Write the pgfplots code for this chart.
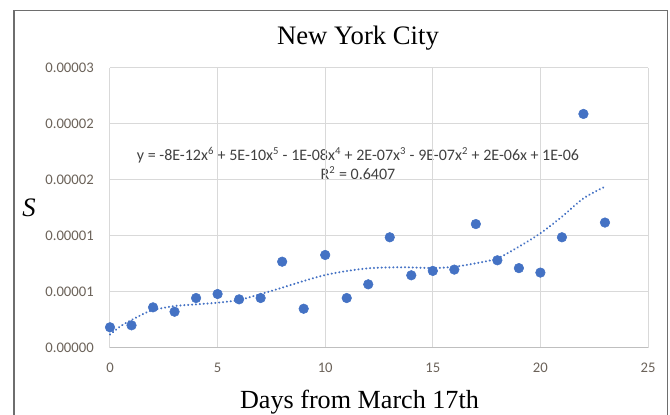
\documentclass[border=0pt]{standalone}
\usepackage{pgfplots}
\pgfplotsset{compat=1.18}
\usepackage{fontspec}
\setmainfont{Liberation Serif}
\newfontfamily\carlito{Carlito}
\definecolor{ptblue}{HTML}{4472C4}
\definecolor{gridgray}{HTML}{D9D9D9}
\definecolor{axgray}{HTML}{BFBFBF}
\definecolor{tickgray}{HTML}{6B6259}
\definecolor{eqgray}{HTML}{404040}
\definecolor{framegray}{HTML}{6E6E6E}
\begin{document}
\begin{tikzpicture}
\begin{scope}[x=0.75pt,y=-0.75pt,shift={(-82.5pt,260.625pt)}]
  \path[use as bounding box] (0,0) rectangle (670,414);
  \draw[framegray,line width=1.1pt] (14,420) -- (14,10.5) -- (667.5,10.5) -- (667.5,420);
  \node[anchor=base,font=\fontsize{20}{23}\selectfont] at (358,45) {New York City};
  \node[anchor=base,font=\fontsize{19.6}{23}\selectfont] at (359.5,408) {Days from March 17th};
  \node[anchor=center,font=\fontsize{20}{23}\selectfont\itshape] at (29,208) {S};
  \node[anchor=center,font=\carlito\fontsize{12}{14}\selectfont,text=eqgray] at (358,155)
    {y = -8E-12x\textsuperscript{6} + 5E-10x\textsuperscript{5} - 1E-08x\textsuperscript{4} + 2E-07x\textsuperscript{3} - 9E-07x\textsuperscript{2} + 2E-06x + 1E-06};
  \node[anchor=center,font=\carlito\fontsize{12}{14}\selectfont,text=eqgray] at (358,173)
    {R\textsuperscript{2} = 0.6407};
\end{scope}
\begin{axis}[
  at={(0pt,0pt)}, anchor=south west,
  scale only axis, width=403.5pt, height=209.625pt,
  xmin=0, xmax=25, ymin=0, ymax=30,
  xtick={0,5,10,15,20,25},
  xticklabels={0,5,10,15,20,25},
  ytick={0,6,12,18,24,30},
  yticklabels={0.00000,0.00001,0.00001,0.00002,0.00002,0.00003},
  grid=major,
  major grid style={gridgray,line width=0.75pt},
  major tick length=0pt,
  axis x line*=bottom, axis y line*=left,
  x axis line style={axgray,line width=0.9pt,-},
  y axis line style={gridgray,line width=0.75pt,-},
  ticklabel style={font=\carlito\fontsize{11}{13}\selectfont,text=tickgray,inner sep=0pt},
  xticklabel style={anchor=center,yshift=-15pt},
  yticklabel style={anchor=east,xshift=-12pt},
  clip=false,
]
\addplot[only marks, mark=*, mark size=3.6pt, mark options={fill=ptblue,draw=ptblue}] coordinates {
(0,2.17) (1,2.38) (2,4.31) (3,3.84) (4,5.31) (5,5.74) (6,5.17) (7,5.31)
(8,9.21) (9,4.16) (10,9.93) (11,5.31) (12,6.78) (13,11.83) (14,7.75)
(15,8.22) (16,8.36) (17,13.25) (18,9.36) (19,8.52) (20,8.04) (21,11.83)
(22,25.07) (23,13.41)
};
\addplot[ptblue, line width=1.7pt, line cap=round, dash pattern=on 0.01pt off 2.9pt, smooth] coordinates {
(0,1.4) (0.5,2.3) (1,2.95) (1.5,3.55) (2,4.02) (3,4.45) (4,4.63) (5,4.81) (6,5.1)
(7,5.74) (8,6.42) (9,7.14) (10,7.78) (11,8.21) (12,8.5) (13,8.6) (14,8.6)
(15,8.52) (16,8.67) (17,9.04) (18,9.57) (19,10.82) (20,12.26) (21,14.04)
(22,16.01) (23,17.26)
};
\end{axis}
\end{tikzpicture}
\end{document}
